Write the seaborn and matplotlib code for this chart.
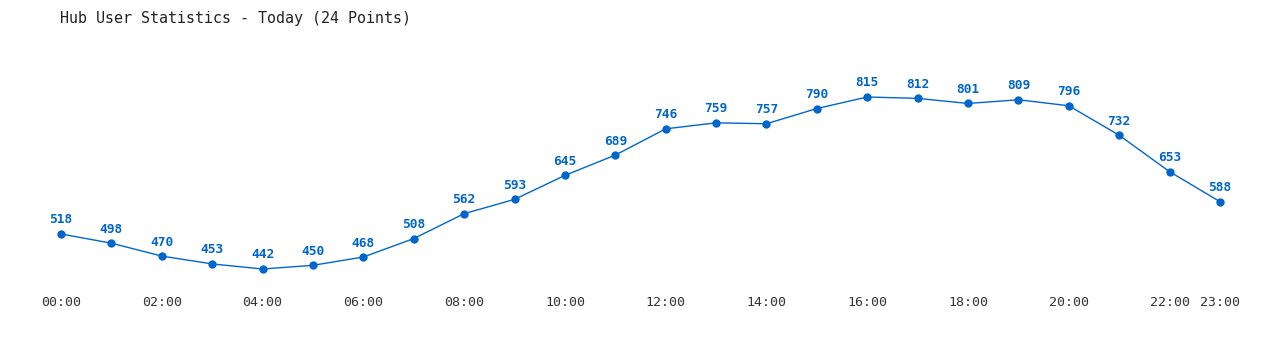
import matplotlib
matplotlib.use("Agg")
import matplotlib.pyplot as plt
import seaborn as sns
import pandas as pd

hours = [f"{h:02d}:00" for h in range(24)]
users = [518, 498, 470, 453, 442, 450, 468, 508, 562, 593, 645, 689,
         746, 759, 757, 790, 815, 812, 801, 809, 796, 732, 653, 588]
tick_labels = ["00:00", "02:00", "04:00", "06:00", "08:00", "10:00",
               "12:00", "14:00", "16:00", "18:00", "20:00", "22:00", "23:00"]
tick_pos = [0, 2, 4, 6, 8, 10, 12, 14, 16, 18, 20, 22, 23]
title = "Hub User Statistics - Today (24 Points)"

sns.set_theme(style="white")
plt.rcParams['font.family'] = ['DejaVu Sans Mono', 'DejaVu Sans']

W, H = 1280, 350
fig = plt.figure(figsize=(W / 100, H / 100), dpi=100)
left_px, right_px, top_px, bot_px = 61, 1220, 60, 288
ax = fig.add_axes([left_px / W, 1 - bot_px / H, (right_px - left_px) / W, (bot_px - top_px) / H])

df = pd.DataFrame({"x": range(len(users)), "users": users})
color = "#0066cc"
sns.lineplot(data=df, x="x", y="users", ax=ax, color=color, linewidth=1,
             marker="o", markersize=6, markeredgewidth=0, clip_on=False)

# y scale: 442 -> 269px, 815 -> 97px
scale = (269 - 97) / (815 - 442)
ymin = 442 - (bot_px - 269) / scale
ymax = 442 + (269 - top_px) / scale
ax.set_ylim(ymin, ymax)
ax.set_xlim(0, 23)

for i, v in enumerate(users):
    ax.annotate(str(v), (i, v), xytext=(0, 14), textcoords="offset pixels",
                ha="center", va="center", fontsize=9.3, fontweight="bold",
                color=color, annotation_clip=False)

ax.set_xticks(tick_pos)
ax.set_xticklabels(tick_labels, fontsize=9.5, color="#333333")
ax.tick_params(axis="x", length=0, pad=5.5)
ax.set_yticks([])
ax.set_xlabel("")
ax.set_ylabel("")
for s in ax.spines.values():
    s.set_visible(False)

fig.text(60 / W, 1 - 18 / H, title, ha="left", va="center", fontsize=10.8, color="#222222")

fig.savefig("out.png", dpi=100)
